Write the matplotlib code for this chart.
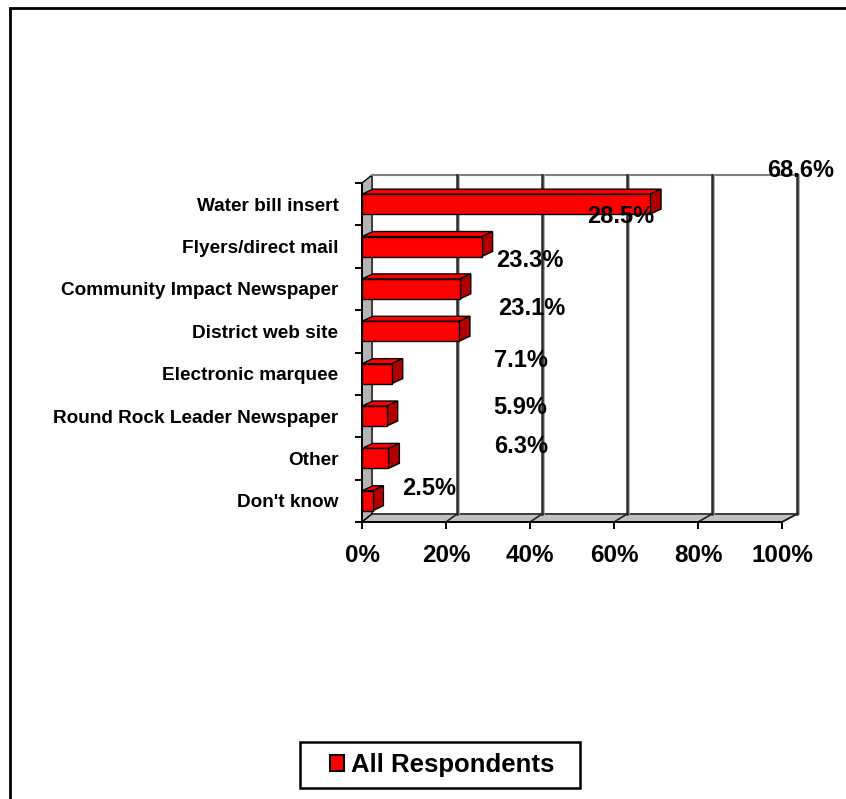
import matplotlib.pyplot as plt
import matplotlib.patches as mpatches
import numpy as np

plt.rcParams['font.family'] = ['Liberation Sans', 'DejaVu Sans']
plt.rcParams['font.weight'] = 'bold'

categories = ["Water bill insert", "Flyers/direct mail", "Community Impact Newspaper",
              "District web site", "Electronic marquee", "Round Rock Leader Newspaper",
              "Other", "Don't know"]
values = [68.6, 28.5, 23.3, 23.1, 7.1, 5.9, 6.3, 2.5]
value_labels = ["68.6%", "28.5%", "23.3%", "23.1%", "7.1%", "5.9%", "6.3%", "2.5%"]
x_ticks = [0, 20, 40, 60, 80, 100]
x_tick_labels = ["0%", "20%", "40%", "60%", "80%", "100%"]
series_name = "All Respondents"

# where the data labels ended up in the original (x in %, y in category units)
label_pos = [(104.5, -0.8), (61.7, 0.3), (40.0, 1.32), (40.5, 2.45),
             (37.9, 3.7), (37.6, 4.8), (37.9, 5.73), (15.9, 6.7)]

W, H = 846, 799
fig = plt.figure(figsize=(W / 100, H / 100), dpi=100)
ax = fig.add_axes([362 / W, 1 - 522 / H, 420 / W, 339 / H])
n = len(categories)
ax.set_xlim(0, 100)
ax.set_ylim(n - 0.5, -0.5)
for s in ax.spines.values():
    s.set_visible(False)

# 3d box: back wall offset
pdx, pdy = 2.4, -0.19
def back_x(v):
    return 1.012 * v + pdx

y_top, y_bot = -0.5, n - 0.5
# left wall
ax.fill([0, back_x(0), back_x(0), 0], [y_top, y_top + pdy, y_bot + pdy, y_bot],
        facecolor='#b4b4b4', edgecolor='black', lw=1, clip_on=False, zorder=1)
# floor
ax.fill([0, 100, back_x(100), back_x(0)], [y_bot, y_bot, y_bot + pdy, y_bot + pdy],
        facecolor='#c0c0c0', edgecolor='black', lw=1, clip_on=False, zorder=1)
# back wall top edge
ax.plot([back_x(0), back_x(100)], [y_top + pdy, y_top + pdy], color='#808080', lw=1.5,
        clip_on=False, zorder=1)
# gridlines on back wall and floor
for v in x_ticks[1:]:
    ax.plot([back_x(v) + 0.4, back_x(v) + 0.4], [y_top + pdy, y_bot + pdy], color='#a0a0a0',
            lw=1.2, clip_on=False, zorder=1)
    ax.plot([back_x(v), back_x(v)], [y_top + pdy, y_bot + pdy], color='#2a2a2a', lw=1.8,
            clip_on=False, zorder=1)
    ax.plot([v, back_x(v)], [y_bot, y_bot + pdy], color='#222222', lw=1.2, clip_on=False, zorder=1)

# bars with depth
h = 0.47
bdx, bdy = 2.6, -0.12
for i, v in enumerate(values):
    t, b = i - h / 2, i + h / 2
    ax.fill([0, v, v + bdx, bdx], [t, t, t + bdy, t + bdy], facecolor='#ff0000',
            edgecolor='black', lw=1, zorder=3)
    ax.fill([v, v + bdx, v + bdx, v], [t, t + bdy, b + bdy, b], facecolor='#b00000',
            edgecolor='black', lw=1, zorder=3)
ax.barh(range(n), values, height=h, color='#ff0000', edgecolor='black', lw=1, zorder=4)

# axis lines
ax.plot([0, 0], [y_top, y_bot], color='black', lw=1.4, clip_on=False, zorder=5)
ax.plot([0, 100], [y_bot, y_bot], color='black', lw=1.4, clip_on=False, zorder=5)

# data labels
for (lx, ly), txt in zip(label_pos, value_labels):
    ax.text(lx, ly, txt, ha='center', va='center', fontsize=17, fontweight='bold',
            clip_on=False, zorder=6)

ax.set_xticks(x_ticks)
ax.set_xticklabels(x_tick_labels, fontsize=17.5, fontweight='bold')
ax.tick_params(axis='x', length=5, width=1.4, pad=11)
ax.set_yticks(range(n))
ax.set_yticklabels(categories, fontsize=13.7, fontweight='bold')
ax.tick_params(axis='y', which='major', length=0, pad=17)
ax.set_yticks(np.arange(-0.5, n, 1.0), minor=True)
ax.tick_params(axis='y', which='minor', length=5, width=1.4)

# legend (frame drawn separately to match the wide box)
handle = mpatches.Patch(facecolor='#ff0000', edgecolor='black', lw=1.5, label=series_name)
leg = fig.legend(handles=[handle], loc='center', bbox_to_anchor=(442 / W, 1 - 765 / H),
                 prop={'weight': 'bold', 'size': 18.5}, frameon=False,
                 handlelength=0.55, handleheight=0.55, handletextpad=0.25, borderpad=0.2)
fig.patches.append(mpatches.Rectangle((300 / W, 1 - 788 / H), 280 / W, 46 / H,
                                      transform=fig.transFigure, fill=False,
                                      edgecolor='black', lw=1.8))

# outer chart frame (clipped at right/bottom)
fig.patches.append(mpatches.Rectangle((9.5 / W, -0.05), 1.1, 1 - 7.5 / H + 0.05,
                                      transform=fig.transFigure, fill=False,
                                      edgecolor='black', lw=2))

fig.savefig('out.png', dpi=100)
